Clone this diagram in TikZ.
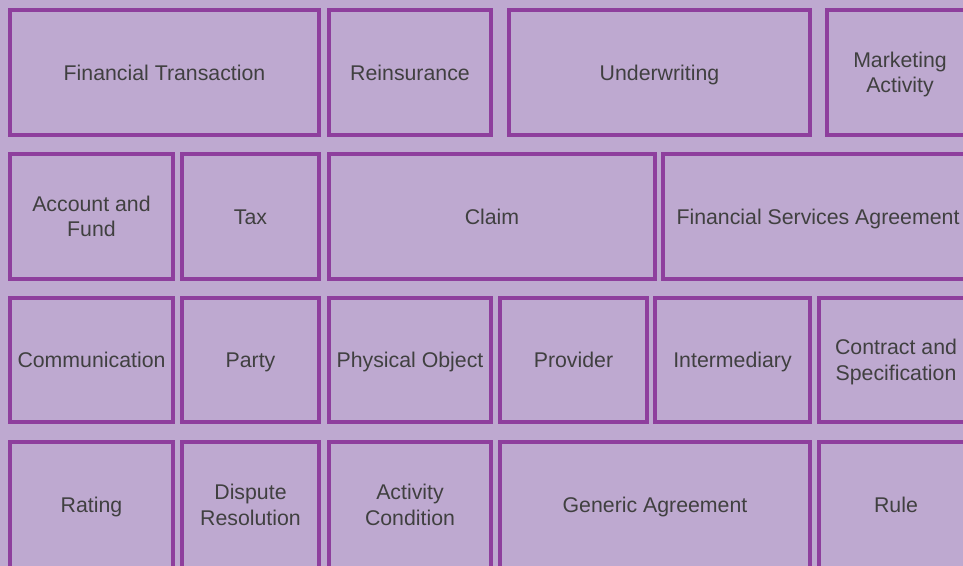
\documentclass[tikz,border=0pt]{standalone}
\usepackage{fontspec}
\setmainfont{Liberation Sans}
\definecolor{bgfill}{HTML}{BEA9D0}
\definecolor{cellborder}{HTML}{8E3F9D}
\definecolor{celltext}{HTML}{404040}
\newcommand\cellstrut{\rule[-5pt]{0pt}{25.3pt}}
\tikzset{
  cell/.style={draw=cellborder, line width=4pt, fill=bgfill, text=celltext,
    rectangle, inner sep=0pt, outer sep=0pt, align=center,
    font=\fontsize{21.3}{25.5}\selectfont}
}
\newcommand\cellbox[6]{%
  \node[cell, minimum width={#4-#2}, minimum height={#5-#3}] (#1) at ({(#2+#4)/2},{(#3+#5)/2}) {\cellstrut#6\cellstrut};}
\begin{document}
\begin{tikzpicture}[x=1pt,y=-1pt]
\useasboundingbox (0,0) rectangle (963,565);
\fill[bgfill] (-3,-3) rectangle (966,569);
% row 1
\cellbox{ft}{10}{10}{319}{135}{Financial Transaction}
\cellbox{reins}{329}{10}{491}{135}{Reinsurance}
\cellbox{underw}{509}{10}{810}{135}{Underwriting}
\cellbox{market}{827}{10}{973}{135}{Marketing\\Activity}
% row 2
\cellbox{acct}{10}{154}{173}{279}{Account and\\Fund}
\cellbox{tax}{182}{154}{319}{279}{Tax}
\cellbox{claim}{329}{154}{655}{279}{Claim}
\cellbox{fsa}{663}{154}{973}{279}{Financial Services Agreement}
% row 3
\cellbox{comm}{10}{298}{173}{422}{Communication}
\cellbox{party}{182}{298}{319}{422}{Party}
\cellbox{phys}{329}{298}{491}{422}{Physical Object}
\cellbox{prov}{500}{298}{647}{422}{Provider}
\cellbox{interm}{655}{298}{810}{422}{Intermediary}
\cellbox{contract}{819}{298}{973}{422}{Contract and\\Specification}
% row 4
\cellbox{rating}{10}{442}{173}{568}{Rating}
\cellbox{dispute}{182}{442}{319}{568}{Dispute\\Resolution}
\cellbox{actcond}{329}{442}{491}{568}{Activity\\Condition}
\cellbox{generic}{500}{442}{810}{568}{Generic Agreement}
\cellbox{rule}{819}{442}{973}{568}{Rule}
\end{tikzpicture}
\end{document}
